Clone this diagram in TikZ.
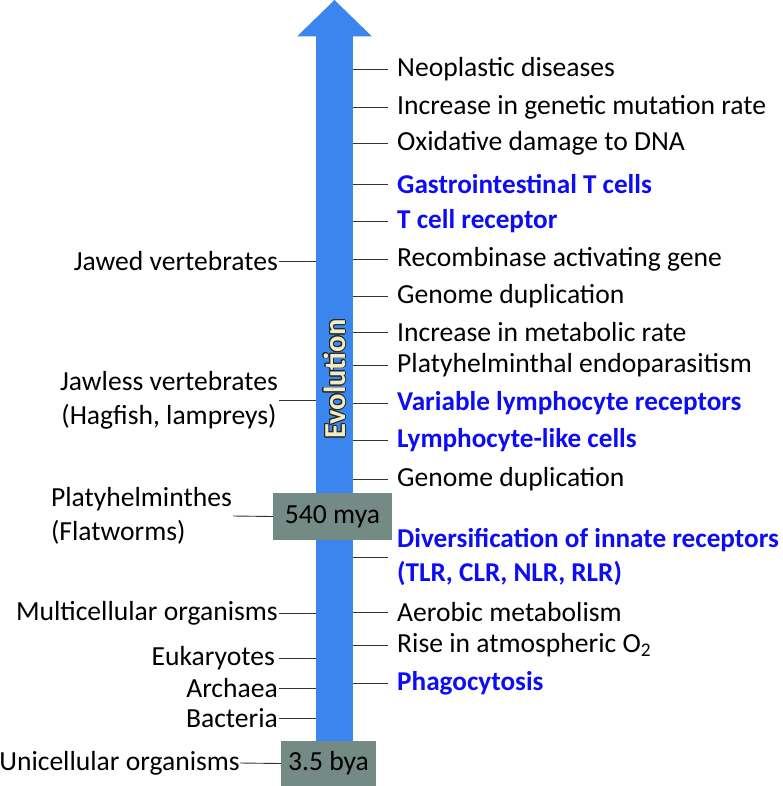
\documentclass[tikz,border=0pt]{standalone}
\usepackage{fontspec}
\setmainfont{Carlito}
\usepackage{contour}
\contourlength{0.9pt}
\definecolor{arrowblue}{RGB}{58,134,238}
\definecolor{boxgray}{RGB}{116,138,133}
\definecolor{hiblue}{RGB}{12,12,245}
\definecolor{evocream}{RGB}{240,236,196}
\newcommand{\labelsize}{\fontsize{27.6}{34}\selectfont}
% one event on the right of the shaft, one group on the left
\newcommand{\rightevent}[4][]{\node[rtext,#1] (#2) at (388,#3) {#4};
  \draw[tick] (#2.west) -- (#2.west -| shaft.east)}
\newcommand{\leftgroup}[4][]{\node[ltext,#1] (#2) at (279,#3) {#4};
  \draw[tick] (#2.east) -- (#2.east -| shaft.west)}

\begin{document}
\begin{tikzpicture}[x=1pt,y=-1pt,font=\labelsize,
    tick/.style={draw=black!80,line width=0.9pt},
    rtext/.style={anchor=west,inner xsep=9pt,inner ysep=0pt,align=left},
    ltext/.style={anchor=east,inner xsep=1pt,inner ysep=0pt,align=center},
    hilite/.style={text=hiblue,font=\fontsize{27.2}{34}\selectfont\bfseries},
    agebox/.style={fill=boxgray,inner sep=0pt}]
    \useasboundingbox (0,0) rectangle (783,786);

    % the arrow
    \node[fill=arrowblue,minimum width=37pt,minimum height=706pt,inner sep=0pt,anchor=north] (shaft) at (334.5,35.5) {};
    \fill[arrowblue] (297,36.5) -- (334.5,0) -- (372,36.5) -- cycle;
    \node[rotate=90,font=\bfseries\fontsize{30.5}{30.5}\selectfont] (evo) at (335,379)
        {\contour{black!85}{\color{evocream}Evolution}};

    \node[agebox,minimum width=119pt,minimum height=47pt] (mya) at (332.5,516.5) {540 mya};
    \node[agebox,minimum width=95pt,minimum height=45pt] (bya) at (328.5,763.5) {3.5 bya};

    % right side
    \rightevent{neo}{69}{Neoplastic diseases};
    \rightevent{mut}{107}{Increase in genetic mutation rate};
    \rightevent{oxd}{143}{Oxidative damage to DNA};
    \rightevent[hilite]{git}{184}{Gastrointestinal T cells};
    \rightevent[hilite]{tcr}{221}{T cell receptor};
    \rightevent{rag}{259}{Recombinase activating gene};
    \rightevent{gdup}{296}{Genome duplication};
    \rightevent{met}{332}{Increase in metabolic rate};
    \rightevent{endo}{365}{Platyhelminthal endoparasitism};
    \rightevent[hilite]{vlr}{403}{Variable lymphocyte receptors};
    \rightevent[hilite]{llc}{440}{Lymphocyte-like cells};
    \rightevent{gdupb}{479}{Genome duplication};
    \rightevent[hilite]{innate}{557}{Diversification of innate receptors\\(TLR, CLR, NLR, RLR)};
    \rightevent{aer}{612}{Aerobic metabolism};
    \rightevent{oxy}{645}{Rise in atmospheric O\textsubscript{2}};
    \rightevent[hilite]{phago}{683}{Phagocytosis};

    % left side
    \leftgroup{jawed}{261}{Jawed vertebrates};
    \leftgroup{jawless}{400}{Jawless vertebrates\\(Hagfish, lampreys)};
    \leftgroup{multi}{613}{Multicellular organisms};
    \leftgroup[inner xsep=4pt]{euk}{658}{Eukaryotes};
    \leftgroup{arch}{688}{Archaea};
    \leftgroup{bact}{718}{Bacteria};

    \node[ltext,align=left] (flat) at (233,516) {Platyhelminthes\\(Flatworms)};
    \draw[tick] (flat.east) -- (mya.west);
    \node[ltext,inner xsep=0pt] (uni) at (240,763) {Unicellular organisms};
    \draw[tick] (uni.east) -- (bya.west);
\end{tikzpicture}
\end{document}
